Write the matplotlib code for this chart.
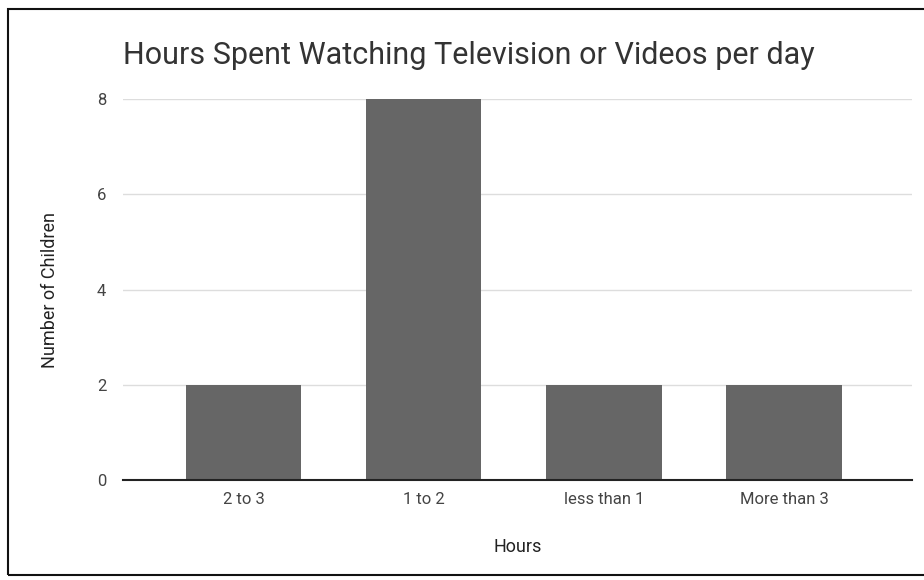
import matplotlib
matplotlib.use("Agg")
import matplotlib.pyplot as plt
from matplotlib.patches import Rectangle

plt.rcParams['font.family'] = ['Roboto', 'DejaVu Sans']

categories = ["2 to 3", "1 to 2", "less than 1", "More than 3"]
children = [2, 8, 2, 2]
yticks = [0, 2, 4, 6, 8]

fig = plt.figure(figsize=(9.24, 5.8), dpi=100)
ax = fig.add_axes([123 / 924, 1 - 480 / 580, (912 - 123) / 924, (480 - 99) / 580])

x = list(range(len(categories)))
ax.bar(x, children, width=0.64, color="#666666", zorder=2)

ax.set_xlim(-0.67, 3.71)
ax.set_ylim(0, 8)
ax.set_yticks(yticks)
ax.set_xticks(x)
ax.set_xticklabels(categories)
ax.tick_params(axis="both", length=0, labelsize=12, colors="#444444")
ax.tick_params(axis="x", pad=9)
ax.tick_params(axis="y", pad=12)
ax.yaxis.grid(True, color="#dddddd", linewidth=1, zorder=0)
for side in ["top", "right", "left"]:
    ax.spines[side].set_visible(False)
ax.spines["bottom"].set_color("#222222")
ax.spines["bottom"].set_linewidth(1.5)
ax.spines["bottom"].set_zorder(3)

ax.set_xlabel("Hours", fontsize=13, labelpad=22, color="#222222")
ax.set_ylabel("Number of Children", fontsize=13, labelpad=27, color="#222222")

fig.text(123 / 924, 1 - 55 / 580, "Hours Spent Watching Television or Videos per day",
         fontsize=22, va="center", ha="left", color="#333333")

# frame around the chart
fig.patches.append(Rectangle((8 / 924, 5 / 580), 1.0, 1 - 14 / 580, transform=fig.transFigure,
                             fill=False, edgecolor="#111111", linewidth=1.5))

fig.savefig("out.png", dpi=100)
